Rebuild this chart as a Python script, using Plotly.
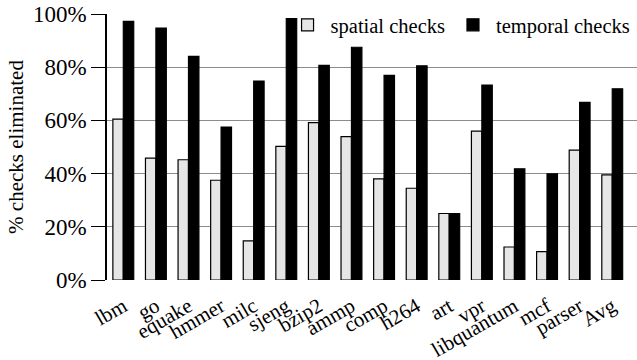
import plotly.graph_objects as go

categories = ["lbm", "go", "equake", "hmmer", "milc", "sjeng", "bzip2", "ammp",
              "comp", "h264", "art", "vpr", "libquantum", "mcf", "parser", "Avg"]
spatial = [60.5, 45.8, 45.2, 37.5, 14.7, 50.2, 59.2, 53.9,
           38.0, 34.5, 25.0, 56.0, 12.4, 10.7, 48.8, 39.5]
temporal = [97.2, 94.7, 84.1, 57.5, 74.8, 98.3, 80.7, 87.5,
            76.9, 80.5, 25.0, 73.3, 41.8, 39.9, 66.8, 71.9]
yticks = [0, 20, 40, 60, 80, 100]
ytick_labels = ["0%", "20%", "40%", "60%", "80%", "100%"]

font_family = "Liberation Serif, Times New Roman, serif"

fig = go.Figure()
fig.add_trace(go.Bar(x=list(range(len(categories))), y=spatial, name="spatial checks",
                     marker=dict(color="#e6e6e6", line=dict(color="black", width=1.2))))
fig.add_trace(go.Bar(x=list(range(len(categories))), y=temporal, name="temporal checks",
                     marker=dict(color="black", line=dict(color="black", width=1.2))))

fig.update_layout(
    width=637, height=360,
    margin=dict(l=107, r=0, t=14, b=80, autoexpand=False),
    paper_bgcolor="white", plot_bgcolor="white",
    barmode="group", bargap=0.36, bargroupgap=0.0,
    font=dict(family=font_family, size=22, color="black"),
    legend=dict(orientation="h", x=0.335, y=1.034, xanchor="left", yanchor="top",
                bgcolor="rgba(0,0,0,0)", font=dict(size=20.5), itemwidth=36,
                traceorder="normal", tracegroupgap=0),
    xaxis=dict(range=[-0.5, 15.76], tickmode="array",
               tickvals=list(range(len(categories))), ticktext=categories,
               tickangle=-30, showgrid=False, ticks="outside", ticklen=5,
               tickcolor="rgba(0,0,0,0)", showline=False,
               zeroline=False, tickfont=dict(size=21), automargin=False),
    yaxis=dict(range=[0, 100], tickmode="array", tickvals=yticks, ticktext=ytick_labels,
               showgrid=True, gridcolor="#8c8c8c", gridwidth=1.2,
               ticks="outside", ticklen=14, tickcolor="black", tickwidth=1.2,
               showline=True, linecolor="black", linewidth=1.5,
               zeroline=False, tickfont=dict(size=23), automargin=False,
               title=dict(text="% checks eliminated", font=dict(size=21), standoff=4)),
)

fig.write_html("out.html", config={"displayModeBar": False},
               post_script="document.body.style.margin='0px';")
